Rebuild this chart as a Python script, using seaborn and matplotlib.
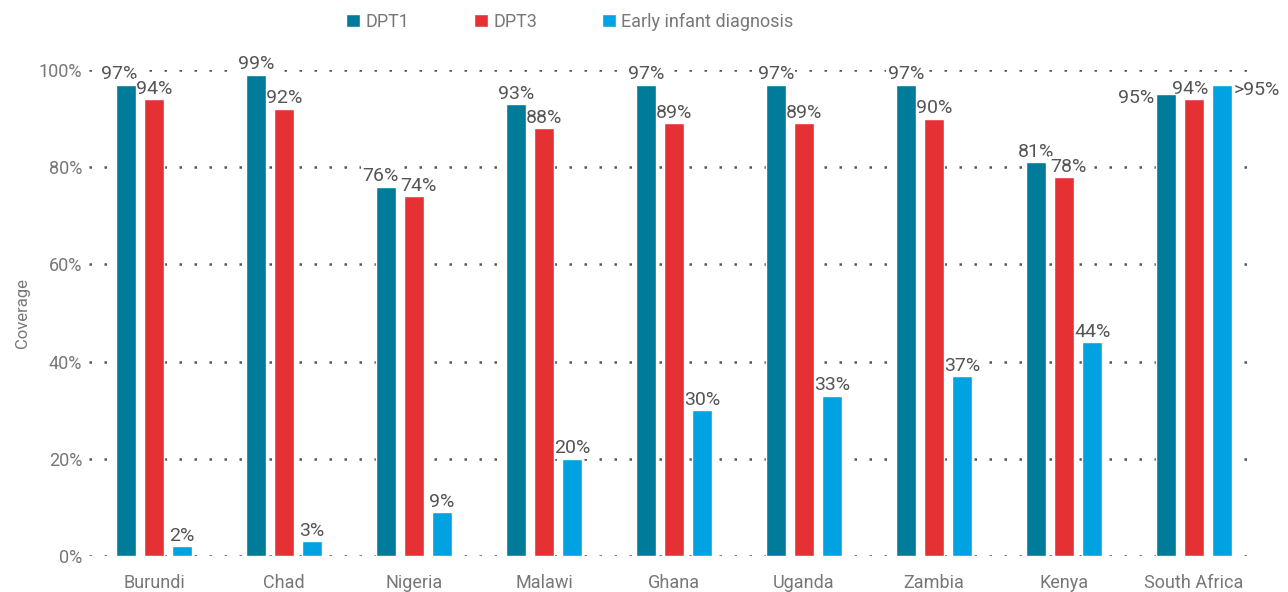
import pandas as pd
import matplotlib.pyplot as plt
import seaborn as sns

# values
countries = ["Burundi", "Chad", "Nigeria", "Malawi", "Ghana", "Uganda", "Zambia", "Kenya", "South Africa"]
dpt1 = [97, 99, 76, 93, 97, 97, 97, 81, 95]
dpt3 = [94, 92, 74, 88, 89, 89, 90, 78, 94]
eid = [2, 3, 9, 20, 30, 33, 37, 44, 97]
eid_labels = ["2%", "3%", "9%", "20%", "30%", "33%", "37%", "44%", ">95%"]
series = ["DPT1", "DPT3", "Early infant diagnosis"]
colors = ["#007B9A", "#E53134", "#00A2E1"]

df = pd.DataFrame({
    "country": countries * 3,
    "series": [s for s in series for _ in countries],
    "value": dpt1 + dpt3 + eid,
})

sns.set_style("white")
plt.rcParams["font.family"] = ["Roboto", "DejaVu Sans"]

fig = plt.figure(figsize=(12.88, 5.92), dpi=100)
ax = fig.add_axes([0.0691, 0.0608, 0.9084, 0.821])

sns.barplot(data=df, x="country", y="value", hue="series", palette=colors,
            width=0.65, gap=0.3, saturation=1, ax=ax, legend=True, zorder=2)

ax.set_ylim(0, 100)
ax.set_xlim(-0.5, 8.5)
ax.set_yticks([0, 20, 40, 60, 80, 100])
ax.set_yticklabels([f"{v}%" for v in [0, 20, 40, 60, 80, 100]])
ax.yaxis.grid(True, color="#555555", linestyle=(0, (1, 5)), linewidth=1.8, zorder=1)
ax.set_axisbelow(True)
for s in ax.spines.values():
    s.set_visible(False)
ax.tick_params(axis="both", length=0, labelsize=13, colors="#777777")
ax.tick_params(axis="x", pad=13)
ax.tick_params(axis="y", pad=5)
ax.set_xlabel("")
ax.set_ylabel("Coverage", fontsize=12, color="#777777", labelpad=6)

# value labels, with small sideways nudges (points) where the reference shifts them
# labels sit between grid and bars so their white box only hides the dotted lines
all_labels = [[f"{v}%" for v in dpt1], [f"{v}%" for v in dpt3], eid_labels]
nudge = {(0, 0): -5, (2, 0): -4, (2, 1): 3, (7, 1): 3, (8, 1): -3}
box = dict(facecolor="white", edgecolor="none", pad=1)
for ci, cont in enumerate(ax.containers):
    for i, bar in enumerate(cont):
        x = bar.get_x() + bar.get_width() / 2
        h = bar.get_height()
        txt = all_labels[ci][i]
        if countries[i] == "South Africa" and ci == 0:
            ax.annotate(txt, (bar.get_x(), h), xytext=(-1, -3), textcoords="offset points",
                        ha="right", va="center", fontsize=14, color="#555555",
                        annotation_clip=False, bbox=box, zorder=1.5)
        elif countries[i] == "South Africa" and ci == 2:
            ax.annotate(txt, (bar.get_x() + bar.get_width(), h), xytext=(1, -4),
                        textcoords="offset points", ha="left", va="center", fontsize=14,
                        color="#555555", annotation_clip=False, bbox=box, zorder=1.5)
        else:
            ax.annotate(txt, (x, h), xytext=(nudge.get((i, ci), 0), 1), textcoords="offset points",
                        ha="center", va="bottom", fontsize=14, color="#555555",
                        annotation_clip=False, bbox=box, zorder=1.5)

leg = ax.legend(loc="center", bbox_to_anchor=(0.411, 1.099), ncol=3, frameon=False,
                fontsize=13, handlelength=0.75, handleheight=0.75, handletextpad=0.3,
                columnspacing=3.6, labelcolor="#777777")

fig.savefig("out.png", dpi=100)
